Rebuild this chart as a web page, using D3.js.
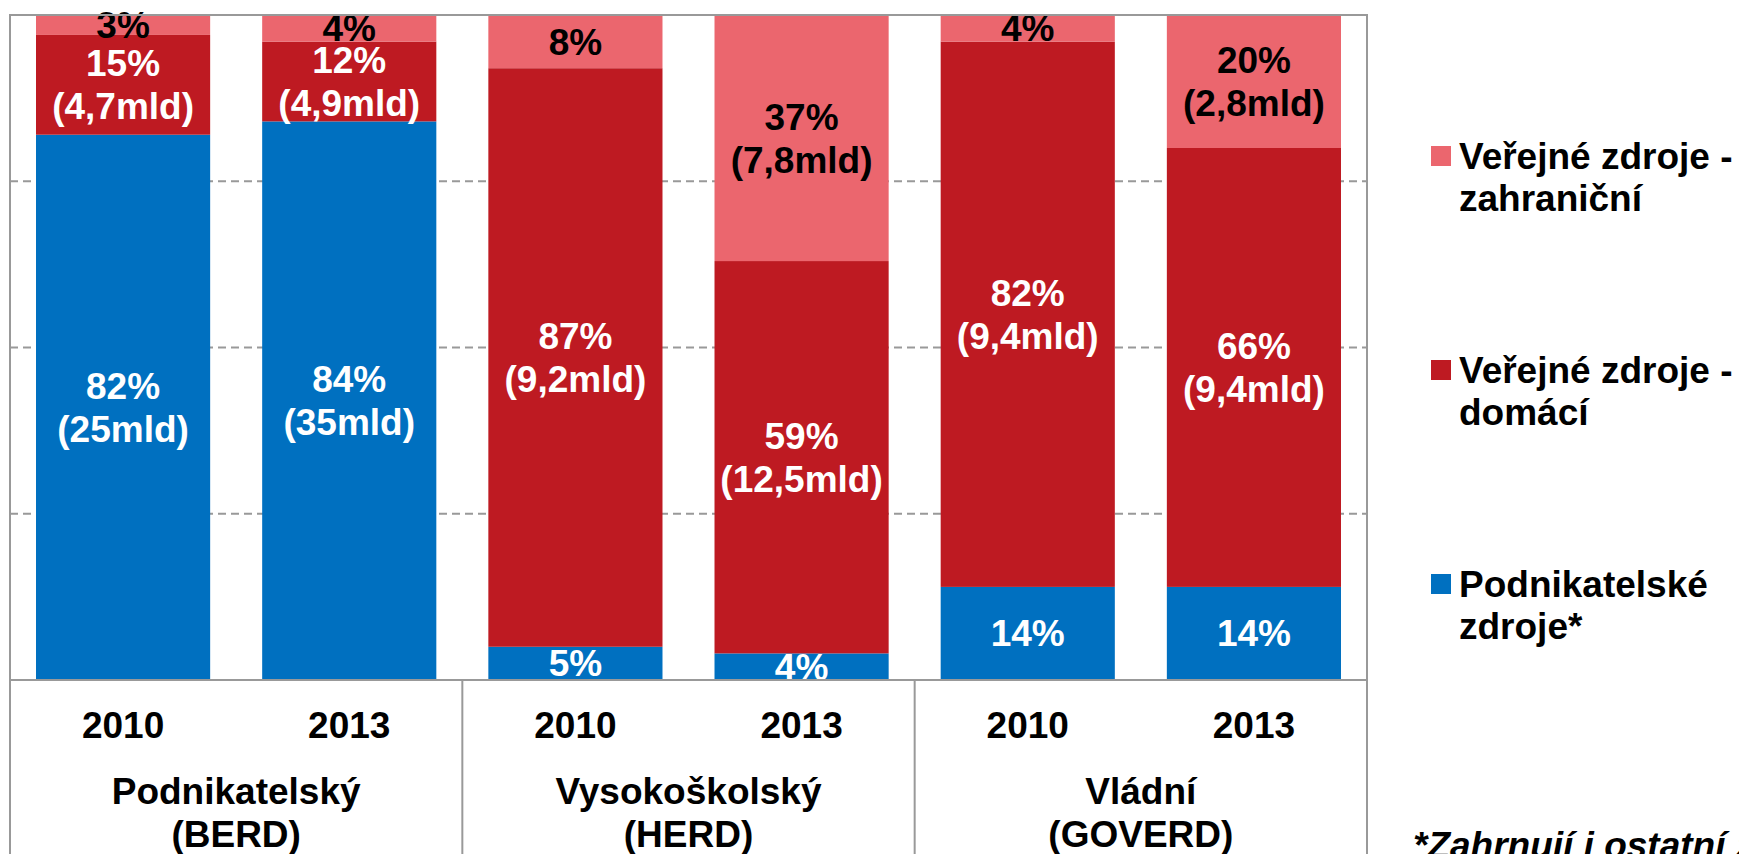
<!DOCTYPE html>
<html>

<head>
	<meta charset="utf-8">
	<title>Zdroje financování VaV podle sektorů</title>
	<script src="https://d3js.org/d3.v7.min.js"></script>
	<style>
		body { margin: 0; background: #fff; }
		text { font-family: "Liberation Sans", Arial, sans-serif; font-weight: bold; }
	</style>
</head>

<body>
	<script>
		// Data (shares in %, amounts in mld Kč)
		const sectors = [["Podnikatelský", "(BERD)"], ["Vysokoškolský", "(HERD)"], ["Vládní", "(GOVERD)"]];
		const years = ["2010", "2013"];
		const bars = ["BERD 2010", "BERD 2013", "HERD 2010", "HERD 2013", "GOVERD 2010", "GOVERD 2013"];
		const seriesKeys = ["podnik", "domaci", "zahranicni"];
		const seriesNames = [["Podnikatelské", "zdroje*"], ["Veřejné zdroje -", "domácí"], ["Veřejné zdroje -", "zahraniční"]];
		const podnik = [82, 84, 5, 4, 14, 14];
		const domaci = [15, 12, 87, 59, 82, 66];
		const zahranicni = [3, 4, 8, 37, 4, 20];
		const podnikMld = ["25", "35", null, null, null, null];
		const domaciMld = ["4,7", "4,9", "9,2", "12,5", "9,4", "9,4"];
		const zahranicniMld = [null, null, null, "7,8", null, "2,8"];
		const yTicks = [25, 50, 75];
		const footnote = "*Zahrnují i ostatní zdroje";

		const colors = { podnik: "#0070c0", domaci: "#be1a22", zahranicni: "#eb666e" };
		const labelColors = { podnik: "#fff", domaci: "#fff", zahranicni: "#000" };
		const amounts = { podnik: podnikMld, domaci: domaciMld, zahranicni: zahranicniMld };

		const W = 1739, H = 854;
		const plot = { left: 10, right: 1367, top: 15, bottom: 680 };
		const fs = 37;

		const svg = d3.select('body')
			.append('svg')
			.attr('width', W)
			.attr('height', H);

		const rows = bars.map((b, i) => ({ bar: b, i, podnik: podnik[i], domaci: domaci[i], zahranicni: zahranicni[i] }));
		const stacked = d3.stack().keys(seriesKeys)(rows);

		const x = d3.scaleBand()
			.domain(bars)
			.range([plot.left, plot.right])
			.paddingInner(0.23)
			.paddingOuter(0.115);

		const xGroup = d3.scaleBand()
			.domain(sectors.map(s => s[0]))
			.range([plot.left, plot.right]);

		const y = d3.scaleLinear()
			.domain([0, 100])
			.range([plot.bottom, plot.top]);

		// dashed gridlines
		svg.append('g')
			.selectAll('line')
			.data(yTicks)
			.enter()
			.append('line')
			.attr('x1', plot.left)
			.attr('x2', plot.right)
			.attr('y1', d => y(d))
			.attr('y2', d => y(d))
			.attr('stroke', '#999')
			.attr('stroke-width', 2)
			.attr('stroke-dasharray', '8,5');

		// stacked bars
		const layer = svg.append('g')
			.selectAll('g')
			.data(stacked)
			.enter()
			.append('g')
			.attr('fill', d => colors[d.key]);

		layer.selectAll('rect')
			.data(d => d)
			.enter()
			.append('rect')
			.attr('x', d => x(d.data.bar))
			.attr('width', x.bandwidth())
			.attr('y', d => y(d[1]))
			.attr('height', d => y(d[0]) - y(d[1]));

		// segment labels
		const lab = svg.append('g');
		stacked.forEach(s => {
			s.forEach((d, i) => {
				const c = (y(d[0]) + y(d[1])) / 2;
				const cx = x(d.data.bar) + x.bandwidth() / 2;
				const pct = d.data[s.key] + '%';
				const amt = amounts[s.key][i];
				const t = lab.append('text')
					.attr('text-anchor', 'middle')
					.attr('font-size', fs)
					.attr('fill', labelColors[s.key]);
				if (amt) {
					t.append('tspan').attr('x', cx).attr('y', c - 8.5).text(pct);
					t.append('tspan').attr('x', cx).attr('y', c + 34.5).text('(' + amt + 'mld)');
				} else {
					t.attr('x', cx).attr('y', c + 13).text(pct);
				}
			});
		});

		// frame and table lines
		const frame = svg.append('g')
			.attr('stroke', '#999')
			.attr('stroke-width', 2)
			.attr('fill', 'none');
		frame.append('path')
			.attr('d', `M${plot.left},${H}V${plot.top}H${plot.right}V${H}`);
		frame.append('line')
			.attr('x1', plot.left).attr('x2', plot.right)
			.attr('y1', plot.bottom).attr('y2', plot.bottom);
		frame.selectAll('.sep')
			.data(sectors.slice(1))
			.enter()
			.append('line')
			.attr('x1', d => xGroup(d[0])).attr('x2', d => xGroup(d[0]))
			.attr('y1', plot.bottom).attr('y2', H);

		// year labels
		svg.append('g')
			.selectAll('text')
			.data(bars)
			.enter()
			.append('text')
			.attr('x', d => x(d) + x.bandwidth() / 2)
			.attr('y', 738)
			.attr('text-anchor', 'middle')
			.attr('font-size', fs)
			.text((d, i) => years[i % 2]);

		// sector labels
		const sec = svg.append('g')
			.selectAll('text')
			.data(sectors)
			.enter()
			.append('text')
			.attr('text-anchor', 'middle')
			.attr('font-size', fs);
		sec.append('tspan')
			.attr('x', d => xGroup(d[0]) + xGroup.bandwidth() / 2)
			.attr('y', 804)
			.text(d => d[0]);
		sec.append('tspan')
			.attr('x', d => xGroup(d[0]) + xGroup.bandwidth() / 2)
			.attr('y', 847)
			.text(d => d[1]);

		// legend (top to bottom: zahraniční, domácí, podnikatelské)
		const legendY = [156, 370, 584];
		const legendOrder = [2, 1, 0];
		const leg = svg.append('g')
			.selectAll('g')
			.data(legendOrder)
			.enter()
			.append('g')
			.attr('transform', (d, i) => `translate(1431, ${legendY[i]})`);
		leg.append('rect')
			.attr('x', 0)
			.attr('y', -10)
			.attr('width', 20)
			.attr('height', 20)
			.attr('fill', d => colors[seriesKeys[d]]);
		const lt = leg.append('text')
			.attr('font-size', fs)
			.attr('fill', '#000');
		lt.append('tspan').attr('x', 28).attr('y', 13).text(d => seriesNames[d][0]);
		lt.append('tspan').attr('x', 28).attr('y', 55).text(d => seriesNames[d][1]);

		// footnote (cut off by the bottom edge, as in the original)
		svg.append('text')
			.attr('x', 1413)
			.attr('y', 858)
			.attr('font-size', fs)
			.attr('font-style', 'italic')
			.text(footnote);
	</script>
</body>

</html>
